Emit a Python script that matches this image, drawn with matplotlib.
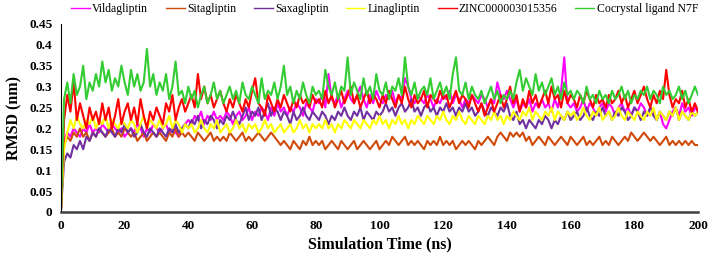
import numpy as np
import matplotlib
matplotlib.use("Agg")
import matplotlib.pyplot as plt

time_ns = list(range(0, 201))

cocrystal = [0.0,
0.27, 0.31, 0.26, 0.33, 0.28, 0.30, 0.35, 0.27, 0.31, 0.29,
0.33, 0.30, 0.36, 0.31, 0.34, 0.29, 0.32, 0.30, 0.35, 0.31,
0.28, 0.34, 0.30, 0.33, 0.29, 0.31, 0.39, 0.30, 0.33, 0.28,
0.31, 0.29, 0.33, 0.27, 0.30, 0.36, 0.28, 0.29, 0.26, 0.30,
0.27, 0.29, 0.25, 0.28, 0.30, 0.26, 0.28, 0.31, 0.27, 0.29,
0.26, 0.28, 0.30, 0.27, 0.29, 0.26, 0.31, 0.28, 0.27, 0.30,
0.28, 0.26, 0.32, 0.27, 0.29, 0.28, 0.31, 0.27, 0.30, 0.35,
0.28, 0.30, 0.26, 0.29, 0.27, 0.31, 0.28, 0.26, 0.30, 0.28,
0.29, 0.27, 0.34, 0.30, 0.28, 0.31, 0.27, 0.30, 0.29, 0.37,
0.28, 0.31, 0.29, 0.27, 0.32, 0.28, 0.30, 0.27, 0.33, 0.29,
0.28, 0.31, 0.27, 0.30, 0.29, 0.32, 0.28, 0.37, 0.30, 0.28,
0.31, 0.27, 0.29, 0.30, 0.28, 0.32, 0.27, 0.29, 0.31, 0.28,
0.30, 0.27, 0.33, 0.37, 0.29, 0.28, 0.31, 0.27, 0.30, 0.28,
0.27, 0.29, 0.26, 0.28, 0.30, 0.27, 0.29, 0.26, 0.28, 0.27,
0.29, 0.27, 0.31, 0.34, 0.29, 0.32, 0.30, 0.28, 0.33, 0.29,
0.31, 0.28, 0.30, 0.32, 0.28, 0.30, 0.27, 0.31, 0.28, 0.29,
0.27, 0.29, 0.28, 0.26, 0.30, 0.27, 0.28, 0.26, 0.29, 0.27,
0.28, 0.26, 0.29, 0.27, 0.28, 0.30, 0.27, 0.29, 0.26, 0.28,
0.27, 0.29, 0.28, 0.30, 0.27, 0.29, 0.28, 0.26, 0.30, 0.28,
0.29, 0.27, 0.28, 0.30, 0.27, 0.29, 0.26, 0.28, 0.30, 0.28]

zinc = [0.0,
0.22, 0.28, 0.24, 0.31, 0.22, 0.26, 0.23, 0.20, 0.25, 0.22,
0.24, 0.21, 0.26, 0.22, 0.25, 0.20, 0.23, 0.27, 0.21, 0.24,
0.26, 0.22, 0.25, 0.21, 0.27, 0.23, 0.20, 0.24, 0.22, 0.25,
0.23, 0.21, 0.26, 0.24, 0.28, 0.22, 0.25, 0.27, 0.24, 0.26,
0.28, 0.25, 0.33, 0.27, 0.30, 0.26, 0.28, 0.25, 0.27, 0.29,
0.26, 0.24, 0.27, 0.25, 0.28, 0.26, 0.24, 0.27, 0.25, 0.29,
0.32, 0.26, 0.25, 0.23, 0.28, 0.26, 0.24, 0.27, 0.25, 0.28,
0.26, 0.24, 0.27, 0.25, 0.28, 0.26, 0.27, 0.25, 0.28, 0.26,
0.27, 0.25, 0.29, 0.26, 0.28, 0.25, 0.27, 0.29, 0.26, 0.28,
0.30, 0.26, 0.28, 0.25, 0.27, 0.29, 0.26, 0.28, 0.27, 0.25,
0.28, 0.26, 0.29, 0.27, 0.25, 0.28, 0.26, 0.30, 0.27, 0.25,
0.28, 0.26, 0.27, 0.29, 0.25, 0.28, 0.27, 0.26, 0.29, 0.27,
0.28, 0.25, 0.27, 0.29, 0.26, 0.28, 0.27, 0.25, 0.28, 0.26,
0.24, 0.26, 0.23, 0.25, 0.27, 0.24, 0.26, 0.28, 0.25, 0.27,
0.30, 0.26, 0.28, 0.24, 0.27, 0.25, 0.29, 0.26, 0.28, 0.25,
0.27, 0.29, 0.26, 0.30, 0.27, 0.28, 0.25, 0.29, 0.26, 0.28,
0.27, 0.25, 0.28, 0.26, 0.29, 0.27, 0.25, 0.28, 0.26, 0.27,
0.25, 0.28, 0.26, 0.27, 0.29, 0.26, 0.28, 0.25, 0.27, 0.29,
0.26, 0.28, 0.30, 0.27, 0.25, 0.28, 0.26, 0.29, 0.27, 0.34,
0.28, 0.25, 0.27, 0.26, 0.29, 0.25, 0.27, 0.24, 0.26, 0.24]

vildagliptin = [0.0,
0.17, 0.19, 0.18, 0.20, 0.19, 0.18, 0.20, 0.19, 0.21, 0.19,
0.20, 0.19, 0.21, 0.20, 0.19, 0.21, 0.20, 0.19, 0.20, 0.18,
0.19, 0.20, 0.19, 0.21, 0.20, 0.18, 0.20, 0.19, 0.21, 0.20,
0.19, 0.20, 0.21, 0.19, 0.20, 0.19, 0.18, 0.20, 0.21, 0.22,
0.21, 0.23, 0.22, 0.24, 0.21, 0.23, 0.22, 0.24, 0.22, 0.23,
0.22, 0.24, 0.23, 0.21, 0.23, 0.24, 0.22, 0.23, 0.25, 0.22,
0.24, 0.23, 0.25, 0.24, 0.22, 0.25, 0.23, 0.26, 0.24, 0.25,
0.23, 0.25, 0.24, 0.26, 0.25, 0.23, 0.26, 0.25, 0.24, 0.27,
0.26, 0.28, 0.25, 0.33, 0.27, 0.26, 0.28, 0.25, 0.27, 0.29,
0.27, 0.26, 0.28, 0.30, 0.27, 0.25, 0.28, 0.26, 0.29, 0.27,
0.26, 0.28, 0.27, 0.29, 0.26, 0.28, 0.27, 0.32, 0.30, 0.27,
0.26, 0.28, 0.27, 0.26, 0.28, 0.27, 0.25, 0.27, 0.26, 0.28,
0.27, 0.29, 0.26, 0.28, 0.27, 0.25, 0.27, 0.26, 0.28, 0.27,
0.26, 0.28, 0.27, 0.25, 0.27, 0.26, 0.31, 0.28, 0.27, 0.29,
0.27, 0.25, 0.27, 0.24, 0.26, 0.25, 0.27, 0.24, 0.26, 0.25,
0.27, 0.25, 0.26, 0.24, 0.27, 0.25, 0.29, 0.37, 0.26, 0.25,
0.26, 0.24, 0.25, 0.27, 0.24, 0.26, 0.25, 0.23, 0.25, 0.26,
0.24, 0.26, 0.25, 0.23, 0.25, 0.26, 0.24, 0.25, 0.23, 0.25,
0.24, 0.26, 0.25, 0.23, 0.25, 0.24, 0.22, 0.24, 0.21, 0.20,
0.22, 0.24, 0.25, 0.23, 0.26, 0.24, 0.25, 0.23, 0.25, 0.24]

saxagliptin = [0.0,
0.12, 0.14, 0.13, 0.16, 0.15, 0.17, 0.15, 0.18, 0.17, 0.19,
0.18, 0.20, 0.19, 0.18, 0.20, 0.19, 0.18, 0.20, 0.19, 0.21,
0.19, 0.20, 0.18, 0.19, 0.21, 0.19, 0.18, 0.20, 0.19, 0.18,
0.20, 0.19, 0.18, 0.20, 0.19, 0.21, 0.19, 0.20, 0.21, 0.20,
0.22, 0.21, 0.23, 0.20, 0.22, 0.21, 0.23, 0.22, 0.20, 0.22,
0.21, 0.23, 0.22, 0.24, 0.22, 0.21, 0.23, 0.25, 0.22, 0.24,
0.23, 0.25, 0.22, 0.24, 0.26, 0.23, 0.25, 0.24, 0.22, 0.24,
0.23, 0.21, 0.24, 0.22, 0.23, 0.25, 0.23, 0.22, 0.24, 0.23,
0.22, 0.24, 0.23, 0.21, 0.23, 0.22, 0.24, 0.23, 0.25, 0.23,
0.22, 0.24, 0.23, 0.25, 0.22, 0.24, 0.23, 0.22, 0.24, 0.23,
0.24, 0.26, 0.24, 0.25, 0.23, 0.25, 0.26, 0.24, 0.25, 0.27,
0.24, 0.25, 0.23, 0.25, 0.26, 0.24, 0.25, 0.23, 0.25, 0.24,
0.26, 0.24, 0.25, 0.23, 0.25, 0.24, 0.26, 0.24, 0.25, 0.23,
0.24, 0.26, 0.24, 0.23, 0.25, 0.24, 0.23, 0.25, 0.24, 0.26,
0.23, 0.22, 0.24, 0.21, 0.22, 0.20, 0.22, 0.21, 0.20, 0.22,
0.21, 0.23, 0.22, 0.20, 0.22, 0.21, 0.23, 0.22, 0.24, 0.22,
0.23, 0.24, 0.22, 0.23, 0.25, 0.23, 0.22, 0.24, 0.23, 0.25,
0.23, 0.24, 0.22, 0.24, 0.23, 0.25, 0.24, 0.22, 0.23, 0.25,
0.24, 0.22, 0.24, 0.23, 0.25, 0.23, 0.22, 0.24, 0.23, 0.22,
0.24, 0.23, 0.25, 0.22, 0.24, 0.23, 0.22, 0.24, 0.23, 0.24]

linagliptin = [0.0,
0.15, 0.19, 0.22, 0.20, 0.23, 0.21, 0.20, 0.22, 0.21, 0.23,
0.20, 0.22, 0.21, 0.23, 0.20, 0.22, 0.21, 0.20, 0.22, 0.21,
0.20, 0.22, 0.21, 0.19, 0.21, 0.23, 0.20, 0.22, 0.21, 0.20,
0.22, 0.20, 0.21, 0.23, 0.20, 0.22, 0.21, 0.19, 0.21, 0.20,
0.21, 0.19, 0.20, 0.22, 0.20, 0.19, 0.21, 0.20, 0.22, 0.19,
0.20, 0.21, 0.19, 0.20, 0.22, 0.20, 0.21, 0.19, 0.21, 0.20,
0.21, 0.19, 0.20, 0.22, 0.20, 0.21, 0.19, 0.20, 0.21, 0.19,
0.20, 0.21, 0.19, 0.20, 0.22, 0.20, 0.21, 0.19, 0.21, 0.20,
0.21, 0.20, 0.22, 0.20, 0.21, 0.19, 0.21, 0.20, 0.22, 0.21,
0.20, 0.22, 0.21, 0.20, 0.22, 0.21, 0.20, 0.22, 0.21, 0.23,
0.21, 0.22, 0.20, 0.22, 0.21, 0.23, 0.21, 0.22, 0.20, 0.22,
0.21, 0.23, 0.22, 0.21, 0.23, 0.22, 0.21, 0.23, 0.22, 0.24,
0.22, 0.21, 0.23, 0.22, 0.24, 0.22, 0.21, 0.23, 0.22, 0.21,
0.23, 0.22, 0.21, 0.23, 0.22, 0.24, 0.22, 0.23, 0.21, 0.23,
0.22, 0.24, 0.23, 0.22, 0.24, 0.23, 0.25, 0.22, 0.24, 0.23,
0.22, 0.24, 0.23, 0.25, 0.22, 0.24, 0.23, 0.22, 0.24, 0.23,
0.24, 0.22, 0.23, 0.25, 0.23, 0.22, 0.24, 0.23, 0.25, 0.22,
0.23, 0.24, 0.22, 0.23, 0.25, 0.23, 0.22, 0.24, 0.23, 0.22,
0.24, 0.23, 0.22, 0.24, 0.23, 0.25, 0.22, 0.24, 0.23, 0.22,
0.24, 0.23, 0.25, 0.22, 0.24, 0.23, 0.22, 0.24, 0.23, 0.24]

sitagliptin = [0.0,
0.16, 0.18, 0.17, 0.19, 0.18, 0.20, 0.18, 0.19, 0.17, 0.19,
0.18, 0.20, 0.19, 0.18, 0.19, 0.20, 0.18, 0.19, 0.18, 0.20,
0.19, 0.18, 0.19, 0.17, 0.18, 0.19, 0.17, 0.18, 0.19, 0.18,
0.19, 0.18, 0.17, 0.19, 0.18, 0.20, 0.18, 0.19, 0.18, 0.19,
0.18, 0.17, 0.19, 0.18, 0.17, 0.18, 0.19, 0.17, 0.18, 0.17,
0.18, 0.17, 0.19, 0.18, 0.17, 0.18, 0.19, 0.17, 0.18, 0.17,
0.18, 0.19, 0.18, 0.17, 0.18, 0.19, 0.18, 0.17, 0.16, 0.17,
0.16, 0.15, 0.17, 0.16, 0.15, 0.17, 0.16, 0.18, 0.16, 0.17,
0.16, 0.17, 0.15, 0.16, 0.17, 0.16, 0.15, 0.17, 0.16, 0.15,
0.16, 0.17, 0.15, 0.16, 0.17, 0.16, 0.15, 0.16, 0.17, 0.15,
0.16, 0.17, 0.16, 0.18, 0.17, 0.16, 0.17, 0.18, 0.16, 0.17,
0.16, 0.17, 0.16, 0.15, 0.17, 0.16, 0.17, 0.16, 0.18, 0.16,
0.17, 0.16, 0.17, 0.15, 0.16, 0.17, 0.16, 0.17, 0.16, 0.15,
0.17, 0.16, 0.17, 0.18, 0.17, 0.16, 0.18, 0.19, 0.18, 0.17,
0.19, 0.18, 0.19, 0.18, 0.19, 0.17, 0.18, 0.16, 0.17, 0.18,
0.17, 0.16, 0.18, 0.17, 0.16, 0.17, 0.18, 0.17, 0.16, 0.18,
0.17, 0.16, 0.17, 0.18, 0.16, 0.17, 0.16, 0.17, 0.18, 0.16,
0.17, 0.16, 0.18, 0.17, 0.16, 0.17, 0.18, 0.17, 0.19, 0.18,
0.17, 0.18, 0.19, 0.18, 0.17, 0.18, 0.17, 0.16, 0.17, 0.18,
0.16, 0.17, 0.16, 0.17, 0.16, 0.17, 0.16, 0.17, 0.16, 0.16]

series_names = ["Vildagliptin", "Sitagliptin", "Saxagliptin", "Linagliptin",
                "ZINC000003015356", "Cocrystal ligand N7F"]
series_values = [vildagliptin, sitagliptin, saxagliptin, linagliptin, zinc, cocrystal]
series_colors = ["#FF00FF", "#D04A0A", "#7030A0", "#FFFF00", "#FF0000", "#33CC33"]

x_ticks = [0, 20, 40, 60, 80, 100, 120, 140, 160, 180, 200]
y_ticks = [0, 0.05, 0.1, 0.15, 0.2, 0.25, 0.3, 0.35, 0.4, 0.45]
y_tick_labels = ["0", "0.05", "0.1", "0.15", "0.2", "0.25", "0.3", "0.35", "0.4", "0.45"]

plt.rcParams['font.family'] = ['Liberation Serif', 'DejaVu Serif']

fig = plt.figure(figsize=(7.08, 2.6), dpi=100)
ax = fig.add_axes([0.086, 0.185, 0.9, 0.723])

for name, vals, col in zip(series_names, series_values, series_colors):
    ax.plot(time_ns, vals, color=col, lw=1.5, label=name)

ax.set_xlim(0, 200)
ax.set_ylim(0, 0.45)
ax.set_xticks(x_ticks)
ax.set_yticks(y_ticks)
ax.set_yticklabels(y_tick_labels)
ax.tick_params(length=0, labelsize=9.5, pad=6)
for lab in ax.get_xticklabels() + ax.get_yticklabels():
    lab.set_fontweight('bold')

ax.spines['top'].set_visible(False)
ax.spines['right'].set_visible(False)
ax.spines['left'].set_color('black')
ax.spines['left'].set_linewidth(0.8)
ax.spines['bottom'].set_color('#404040')
ax.spines['bottom'].set_linewidth(1.8)

ax.set_xlabel("Simulation Time (ns)", fontsize=11.5, fontweight='bold', labelpad=3)
ax.set_ylabel("RMSD (nm)", fontsize=11.5, fontweight='bold', labelpad=5)

leg = fig.legend(loc='upper center', bbox_to_anchor=(0.543, 1.03), ncol=6, frameon=False,
                 fontsize=8.5, handlelength=1.6, handletextpad=0.2, columnspacing=1.5)
for line in leg.get_lines():
    line.set_linewidth(1.0)

fig.savefig("out.png", dpi=100)
